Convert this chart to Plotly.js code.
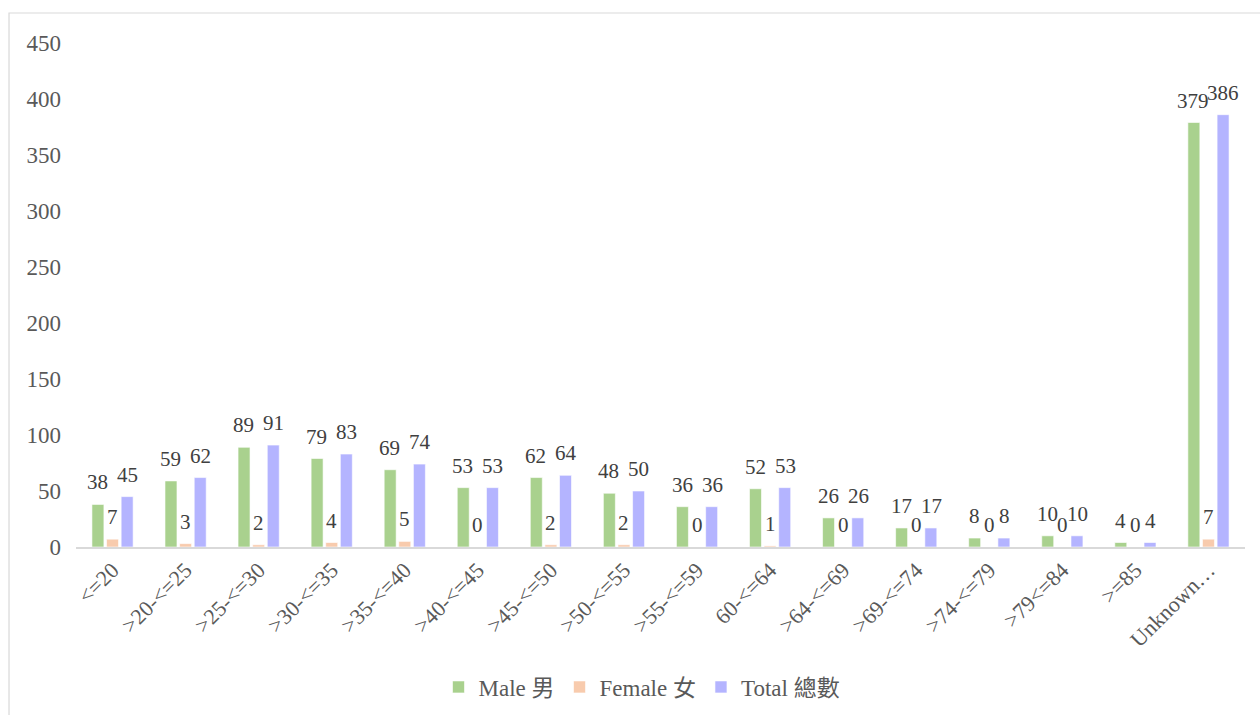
<!DOCTYPE html>
<html><head><meta charset="utf-8">
<script src="https://cdn.plot.ly/plotly-3.0.1.min.js"></script>
<style>html,body{margin:0;padding:0;background:#fff}#chart{width:1260px;height:715px}</style>
</head><body><div id="chart"></div>
<script>
const categories = ["<=20", ">20-<=25", ">25-<=30", ">30-<=35", ">35-<=40", ">40-<=45", ">45-<=50", ">50-<=55", ">55-<=59", "60-<=64", ">64-<=69", ">69-<=74", ">74-<=79", ">79<=84", ">=85", "Unknown…"];
const maleValues = [38, 59, 89, 79, 69, 53, 62, 48, 36, 52, 26, 17, 8, 10, 4, 379];
const femaleValues = [7, 3, 2, 4, 5, 0, 2, 2, 0, 1, 0, 0, 0, 0, 0, 7];
const totalValues = [45, 62, 91, 83, 74, 53, 64, 50, 36, 53, 26, 17, 8, 10, 4, 386];
const seriesNames = ["Male 男", "Female 女", "Total 總數"];
const yTicks = [0, 50, 100, 150, 200, 250, 300, 350, 400, 450];

const font = "Liberation Serif, Times New Roman, Noto Sans CJK TC, serif";
const colors = ["#a9d18e", "#f8cbad", "#b4b4ff"];
const seriesValues = [maleValues, femaleValues, totalValues];

const data = seriesValues.map((vals, i) => ({
  type: 'bar', name: seriesNames[i], x: categories, y: vals,
  marker: {color: colors[i], line: {color: '#ffffff', width: 0.6}},
  hoverinfo: 'x+y'
}));

// value labels placed above each bar, offset within its group
const offsets = [-15, 0, 15];
const annotations = [];
seriesValues.forEach((vals, i) => {
  vals.forEach((v, j) => {
    annotations.push({
      x: categories[j], y: v, xref: 'x', yref: 'y',
      text: String(v), showarrow: false,
      xanchor: 'center', yanchor: 'bottom',
      xshift: offsets[i], yshift: 8,
      font: {family: font, size: 21, color: '#404040'}
    });
  });
});

const layout = {
  width: 1260, height: 715,
  margin: {l: 76, r: 15, t: 43, b: 168},
  paper_bgcolor: '#fff', plot_bgcolor: '#fff',
  font: {family: font, size: 22, color: '#595959'},
  barmode: 'group', bargap: 0.4, bargroupgap: 0.18,
  showlegend: true,
  legend: {orientation: 'h', xref: 'container', yref: 'container',
           x: 642 / 1260, xanchor: 'center', y: 1 - 687 / 715, yanchor: 'middle',
           font: {family: font, size: 23, color: '#595959'}, itemwidth: 30, traceorder: 'normal'},
  xaxis: {type: 'category', tickangle: -45, showgrid: false, showline: true, automargin: false,
          linecolor: '#d9d9d9', linewidth: 1.5, ticks: '', zeroline: false,
          tickfont: {family: font, size: 22, color: '#595959'}},
  yaxis: {range: [0, 450], tickvals: yTicks, showgrid: false, zeroline: false, automargin: false,
          showline: false, ticks: '', ticklabelstandoff: 14,
          tickfont: {family: font, size: 23, color: '#595959'}},
  annotations: annotations,
  shapes: [{type: 'rect', xref: 'paper', yref: 'paper', x0: -0.0573, x1: 1.2, y0: -0.5, y1: 1.0595,
            line: {color: '#d9d9d9', width: 1.2}, fillcolor: 'rgba(0,0,0,0)', layer: 'below'}]
};
Plotly.newPlot('chart', data, layout, {displayModeBar: false, staticPlot: true});
</script></body></html>
